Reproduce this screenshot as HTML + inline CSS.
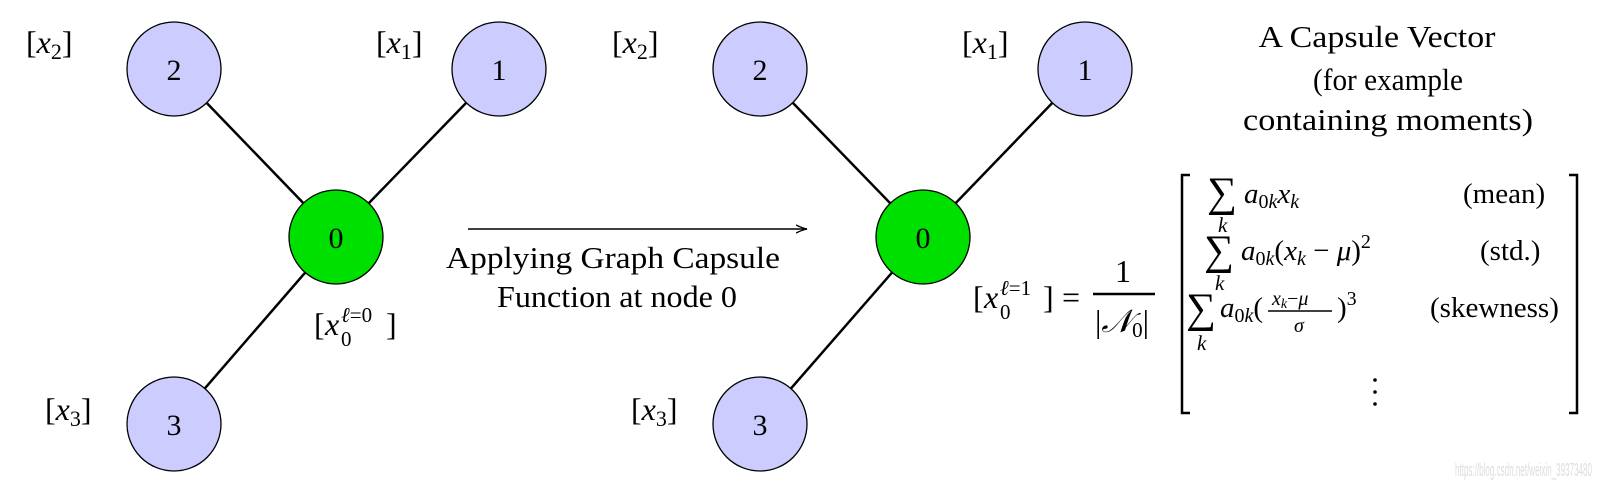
<!DOCTYPE html>
<html><head><meta charset="utf-8"><style>
html,body{margin:0;padding:0;background:#fff;}
svg{display:block;}
text{font-family:"Liberation Serif",serif;fill:#000;}
.m{font-style:italic;}
</style></head><body>
<svg width="1613" height="484" viewBox="0 0 1613 484" xmlns="http://www.w3.org/2000/svg">
<defs><marker id="ah" markerWidth="12" markerHeight="10" refX="11" refY="5" orient="auto" markerUnits="userSpaceOnUse"><path d="M0,1 Q6,4 11,5 Q6,6 0,9" fill="none" stroke="#000" stroke-width="1.3"/></marker></defs>
<g stroke="#000" stroke-width="2.5">
<line x1="174" y1="69" x2="336" y2="237"/><line x1="499" y1="69" x2="336" y2="237"/><line x1="174" y1="424" x2="336" y2="237"/>
<line x1="760" y1="69" x2="923" y2="237"/><line x1="1085" y1="69" x2="923" y2="237"/><line x1="760" y1="424" x2="923" y2="237"/>
</g>
<g stroke="#000" stroke-width="1.3">
<circle cx="174" cy="69" r="47" fill="#ccccff"/><circle cx="499" cy="69" r="47" fill="#ccccff"/><circle cx="174" cy="424" r="47" fill="#ccccff"/><circle cx="336" cy="237" r="47" fill="#00e000"/>
<circle cx="760" cy="69" r="47" fill="#ccccff"/><circle cx="1085" cy="69" r="47" fill="#ccccff"/><circle cx="760" cy="424" r="47" fill="#ccccff"/><circle cx="923" cy="237" r="47" fill="#00e000"/>
</g>
<g font-size="30" text-anchor="middle">
<text x="174" y="80">2</text><text x="499" y="80">1</text><text x="174" y="435">3</text><text x="336" y="248">0</text>
<text x="760" y="80">2</text><text x="1085" y="80">1</text><text x="760" y="435">3</text><text x="923" y="248">0</text>
</g>
<g font-size="32">
<text x="26" y="53">[<tspan class="m">x</tspan><tspan font-size="22" dy="6">2</tspan><tspan dy="-6">]</tspan></text>
<text x="376" y="53">[<tspan class="m">x</tspan><tspan font-size="22" dy="6">1</tspan><tspan dy="-6">]</tspan></text>
<text x="45" y="420">[<tspan class="m">x</tspan><tspan font-size="22" dy="6">3</tspan><tspan dy="-6">]</tspan></text>
<text x="612" y="53">[<tspan class="m">x</tspan><tspan font-size="22" dy="6">2</tspan><tspan dy="-6">]</tspan></text>
<text x="962" y="53">[<tspan class="m">x</tspan><tspan font-size="22" dy="6">1</tspan><tspan dy="-6">]</tspan></text>
<text x="631" y="420">[<tspan class="m">x</tspan><tspan font-size="22" dy="6">3</tspan><tspan dy="-6">]</tspan></text>
<text x="314" y="335">[</text><text x="325" y="335" class="m">x</text>
<text x="341" y="346" font-size="21">0</text><text x="341" y="322" font-size="21"><tspan class="m">ℓ</tspan>=0</text><text x="386" y="335">]</text>
<text x="973" y="308">[</text><text x="984" y="308" class="m">x</text>
<text x="1000" y="319" font-size="21">0</text><text x="1000" y="295" font-size="21"><tspan class="m">ℓ</tspan>=1</text><text x="1043" y="308">]</text>
<text x="1062" y="308">=</text>
<text x="1123" y="282" text-anchor="middle">1</text>
<text x="1095" y="332">|<tspan class="m">𝒩</tspan><tspan font-size="21" dy="5">0</tspan><tspan dy="-5">|</tspan></text>
</g>
<line x1="1093" y1="294" x2="1155" y2="294" stroke="#000" stroke-width="2.5"/>
<line x1="468" y1="229" x2="807" y2="229" stroke="#000" stroke-width="1.5" marker-end="url(#ah)"/>
<g font-size="31" text-anchor="middle">
<text x="613" y="268" textLength="334" lengthAdjust="spacingAndGlyphs">Applying Graph Capsule</text>
<text x="617" y="307" textLength="240" lengthAdjust="spacingAndGlyphs">Function at node 0</text>
<text x="1377" y="47" textLength="237" lengthAdjust="spacingAndGlyphs">A Capsule Vector</text>
<text x="1388" y="90" textLength="150" lengthAdjust="spacingAndGlyphs">(for example</text>
<text x="1388" y="130" textLength="290" lengthAdjust="spacingAndGlyphs">containing moments)</text>
</g>
<g fill="none" stroke="#000" stroke-width="2.5">
<path d="M1190,175 H1182 V413 H1190"/><path d="M1569,175 H1577 V413 H1569"/>
</g>
<g font-size="29">
<text x="1207" y="206" font-size="42">∑</text><text x="1218" y="232" font-size="21" class="m">k</text>
<text x="1244" y="203"><tspan class="m">a</tspan><tspan font-size="20" dy="5">0<tspan class="m">k</tspan></tspan><tspan class="m" dy="-5">x</tspan><tspan font-size="20" dy="5" class="m">k</tspan></text>
<text x="1463" y="203">(mean)</text>
<text x="1204" y="264" font-size="42">∑</text><text x="1215" y="290" font-size="21" class="m">k</text>
<text x="1241" y="260"><tspan class="m">a</tspan><tspan font-size="20" dy="5">0<tspan class="m">k</tspan></tspan><tspan dy="-5">(</tspan><tspan class="m">x</tspan><tspan font-size="20" dy="5" class="m">k</tspan><tspan dy="-5"> − </tspan><tspan class="m">μ</tspan>)<tspan font-size="20" dy="-12">2</tspan></text>
<text x="1480" y="260">(std.)</text>
<text x="1186" y="322" font-size="42">∑</text><text x="1197" y="350" font-size="21" class="m">k</text>
<text x="1220" y="317"><tspan class="m">a</tspan><tspan font-size="20" dy="5">0<tspan class="m">k</tspan></tspan><tspan dy="-5">(</tspan></text>
<text x="1272" y="305" font-size="20"><tspan class="m">x</tspan><tspan font-size="14" class="m" dy="3">k</tspan><tspan dy="-3">−</tspan><tspan class="m">μ</tspan></text>
<text x="1294" y="332" font-size="20" class="m">σ</text>
<text x="1337" y="317">)<tspan font-size="20" dy="-12">3</tspan></text>
<text x="1430" y="317">(skewness)</text>
</g>
<line x1="1268" y1="311" x2="1332" y2="311" stroke="#000" stroke-width="1.5"/>
<g fill="#000"><circle cx="1375" cy="380" r="1.8"/><circle cx="1375" cy="392" r="1.8"/><circle cx="1375" cy="404" r="1.8"/></g>
<text x="1592" y="476" font-size="18" text-anchor="end" textLength="137" lengthAdjust="spacingAndGlyphs" style="font-family:'Liberation Sans',sans-serif;fill:#ddd">https://blog.csdn.net/weixin_39373480</text>
</svg>
</body></html>
